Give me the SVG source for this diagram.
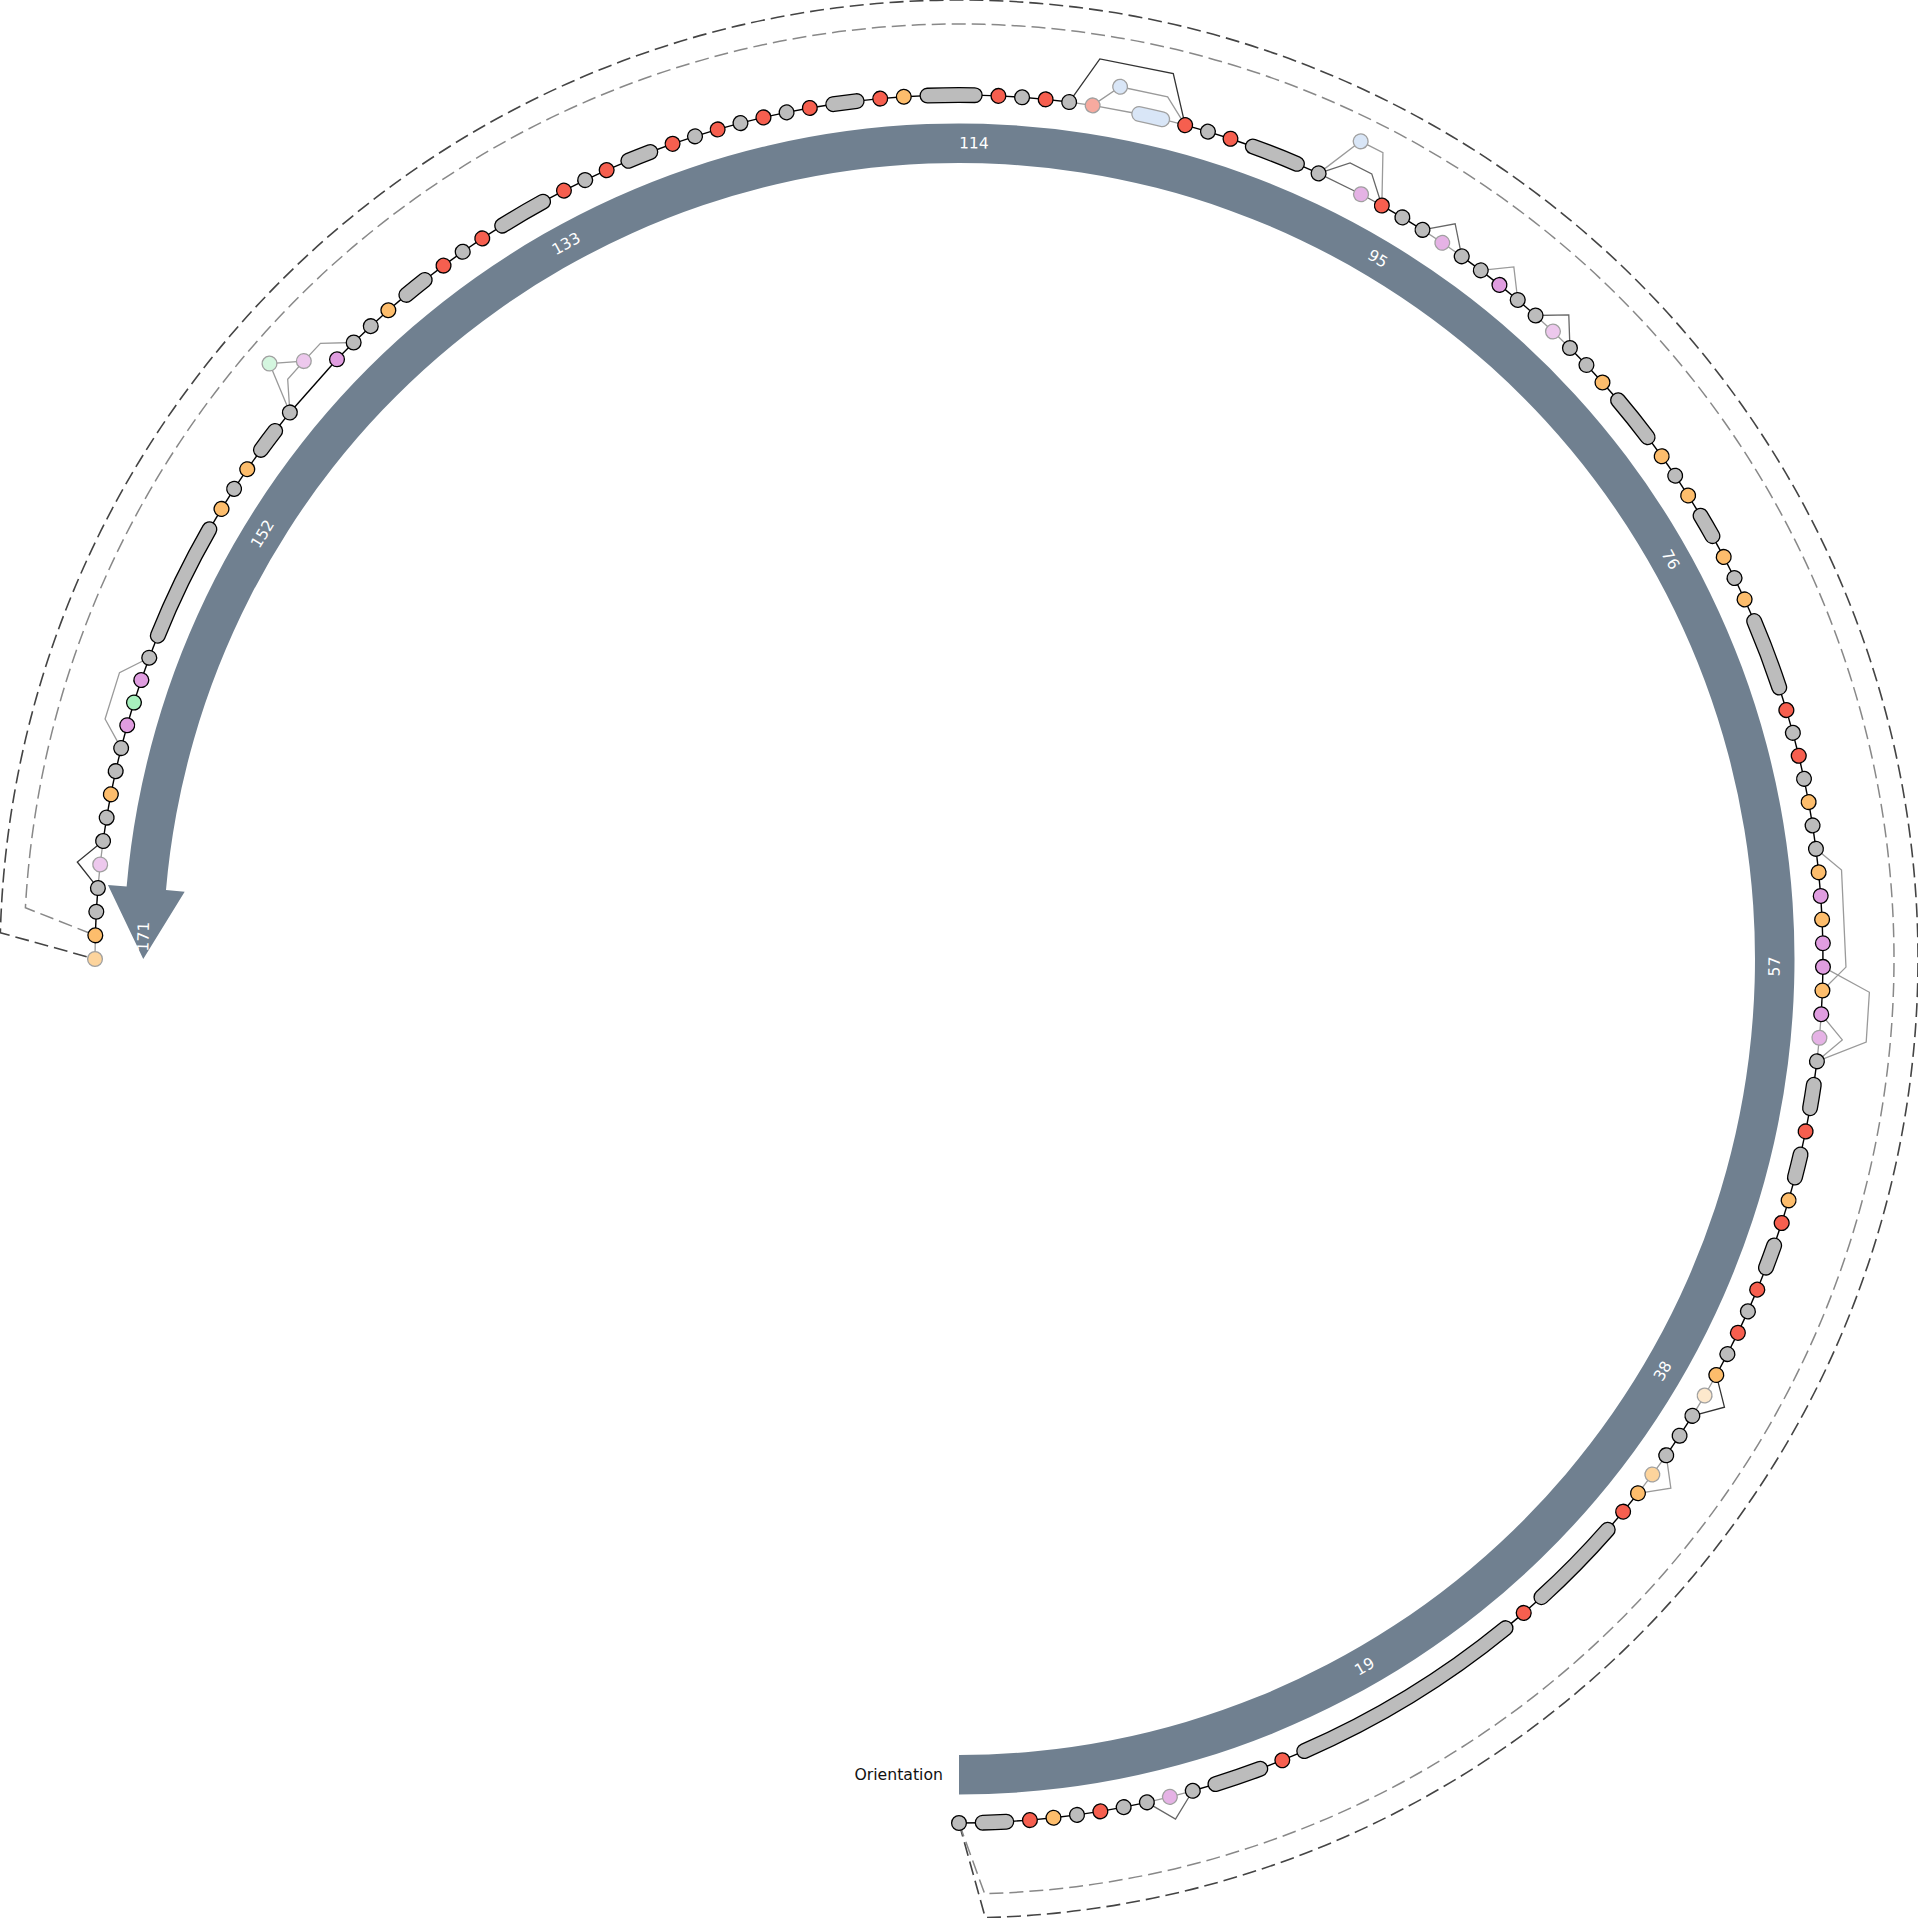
<svg xmlns="http://www.w3.org/2000/svg" width="1918" height="1918" viewBox="0 0 1918 1918">
<style>
.band{fill:#708090}
.lbl{font-family:"DejaVu Sans","Liberation Sans",sans-serif;font-size:15.6px;fill:#fff;text-anchor:middle;dominant-baseline:central}
.ttl{font-family:"DejaVu Sans","Liberation Sans",sans-serif;font-size:15.7px;fill:#111;text-anchor:end}
.dash1{fill:none;stroke:#444;stroke-width:1.6;stroke-dasharray:14 6}
.dash2{fill:none;stroke:#888;stroke-width:1.5;stroke-dasharray:14 6}
.e{fill:none;stroke:#000;stroke-width:1.4}
.el{fill:none;stroke:#9a9a9a;stroke-width:1.3}
.em{fill:none;stroke:#666;stroke-width:1.3}
.ed{fill:none;stroke:#333;stroke-width:1.3}
.node circle{stroke:#000;stroke-width:1.3}
.node.f circle{stroke:#a0a0a0}
.g{fill:#bcbcbc}.r{fill:#f65f4f}.o{fill:#fdbd6c}.v{fill:#e09de0}.gr{fill:#a7f1bd}
.fv{fill:#e5b2e5}.fv2{fill:#edc8ed}.fb{fill:#d9e6f7}.fs{fill:#f7aa9f}.fo{fill:#fdd49c}.fo2{fill:#fde8cc}.fg{fill:#d4f6df}
.po{fill:none;stroke:#000;stroke-width:16;stroke-linecap:round}
.pi{fill:none;stroke:#bcbcbc;stroke-width:13.4;stroke-linecap:round}
.pob{fill:none;stroke:#a0a0a0;stroke-width:16;stroke-linecap:round}
.pib{fill:none;stroke:#d9e6f7;stroke-width:13.4;stroke-linecap:round}
</style>
<defs>
<path id="a1" d="M864 0A864 864 0 0 0 863.68 -23.67"/>
<path id="a2" d="M864 0A864 864 0 0 0 862.7 -47.32"/>
<path id="a3" d="M864 0A864 864 0 0 0 861.08 -70.94"/>
<path id="a4" d="M864 0A864 864 0 0 0 858.82 -94.5"/>
<path id="a5" d="M864 0A864 864 0 0 0 855.9 -117.99"/>
<path id="a10" d="M864 0A864 864 0 0 0 831.77 -233.77"/>
<line id="u1" x1="864" y1="0" x2="863.68" y2="-23.67"/>
<line id="u2" x1="864" y1="0" x2="862.7" y2="-47.32"/>
<line id="u3" x1="864" y1="0" x2="861.08" y2="-70.94"/>
</defs>
<rect width="1918" height="1918" fill="#fff"/>

<g id="orientation">
<path class="band" d="M959 1794.5A835.5 835.5 0 1 0 126.64 886.62L107.96 884.99L143.25 959L184.67 891.66L165.99 890.04A796 796 0 1 1 959 1755Z"/>
<text class="ttl" x="943" y="1780">Orientation</text>
<g transform="translate(959 959)">
<text class="lbl" transform="rotate(60.1744) translate(815.7 0) rotate(-90)">19</text>
<text class="lbl" transform="rotate(30.3488) translate(815.7 0) rotate(-90)">38</text>
<text class="lbl" transform="rotate(0.5233) translate(815.7 0) rotate(-90)">57</text>
<text class="lbl" transform="rotate(-29.3023) translate(815.7 0) rotate(90)">76</text>
<text class="lbl" transform="rotate(-59.1279) translate(815.7 0) rotate(90)">95</text>
<text class="lbl" transform="rotate(-88.9535) translate(815.7 0) rotate(90)">114</text>
<text class="lbl" transform="rotate(-118.7791) translate(815.7 0) rotate(90)">133</text>
<text class="lbl" transform="rotate(-148.6047) translate(815.7 0) rotate(90)">152</text>
<text class="lbl" transform="rotate(-178.4302) translate(815.7 0) rotate(90)">171</text>
</g>
</g>

<g id="connectors">
<path class="dash1" d="M959 1823L985.27 1917.64A959 959 0 1 0 0.36 932.73L95 959"/>
<path class="dash2" d="M959 1823L984.61 1893.65A935 935 0 1 0 25.4 907.79L95.32 935.33"/>
<g transform="translate(959 959)">
<g class="e">
<use href="#u1" transform="rotate(90)"/>
<use href="#u1" transform="rotate(86.8605)"/>
<use href="#u1" transform="rotate(85.2907)"/>
<use href="#u1" transform="rotate(83.7209)"/>
<use href="#u1" transform="rotate(82.1512)"/>
<use href="#u1" transform="rotate(80.5814)"/>
<use href="#u1" transform="rotate(79.0116)"/>
<use href="#u1" transform="rotate(74.3023)"/>
<use href="#u1" transform="rotate(69.593)"/>
<use href="#u1" transform="rotate(68.0233)"/>
<use href="#u1" transform="rotate(50.7558)"/>
<use href="#u1" transform="rotate(49.186)"/>
<use href="#u1" transform="rotate(41.3372)"/>
<use href="#u1" transform="rotate(39.7674)"/>
<use href="#u1" transform="rotate(35.0581)"/>
<use href="#u1" transform="rotate(33.4884)"/>
<use href="#u1" transform="rotate(28.7791)"/>
<use href="#u1" transform="rotate(27.2093)"/>
<use href="#u1" transform="rotate(25.6395)"/>
<use href="#u1" transform="rotate(24.0698)"/>
<use href="#u1" transform="rotate(22.5)"/>
<use href="#u1" transform="rotate(19.3605)"/>
<use href="#u1" transform="rotate(17.7907)"/>
<use href="#u1" transform="rotate(16.2209)"/>
<use href="#u1" transform="rotate(13.0814)"/>
<use href="#u1" transform="rotate(11.5116)"/>
<use href="#u1" transform="rotate(8.3721)"/>
<use href="#u1" transform="rotate(3.6628)"/>
<use href="#u1" transform="rotate(2.093)"/>
<use href="#u1" transform="rotate(0.5233)"/>
<use href="#u1" transform="rotate(-1.0465)"/>
<use href="#u1" transform="rotate(-2.6163)"/>
<use href="#u1" transform="rotate(-4.186)"/>
<use href="#u1" transform="rotate(-5.7558)"/>
<use href="#u1" transform="rotate(-7.3256)"/>
<use href="#u1" transform="rotate(-8.8953)"/>
<use href="#u1" transform="rotate(-10.4651)"/>
<use href="#u1" transform="rotate(-12.0349)"/>
<use href="#u1" transform="rotate(-13.6047)"/>
<use href="#u1" transform="rotate(-15.1744)"/>
<use href="#u1" transform="rotate(-16.7442)"/>
<use href="#u1" transform="rotate(-23.0233)"/>
<use href="#u1" transform="rotate(-24.593)"/>
<use href="#u1" transform="rotate(-26.1628)"/>
<use href="#u1" transform="rotate(-27.7326)"/>
<use href="#u1" transform="rotate(-30.8721)"/>
<use href="#u1" transform="rotate(-32.4419)"/>
<use href="#u1" transform="rotate(-34.0116)"/>
<use href="#u1" transform="rotate(-35.5814)"/>
<use href="#u1" transform="rotate(-40.2907)"/>
<use href="#u1" transform="rotate(-41.8605)"/>
<use href="#u1" transform="rotate(-43.4302)"/>
<use href="#u1" transform="rotate(-48.1395)"/>
<use href="#u1" transform="rotate(-49.7093)"/>
<use href="#u1" transform="rotate(-51.2791)"/>
<use href="#u1" transform="rotate(-52.8488)"/>
<use href="#u1" transform="rotate(-57.5581)"/>
<use href="#u1" transform="rotate(-59.1279)"/>
<use href="#u1" transform="rotate(-65.407)"/>
<use href="#u1" transform="rotate(-70.1163)"/>
<use href="#u1" transform="rotate(-71.686)"/>
<use href="#u1" transform="rotate(-73.2558)"/>
<use href="#u1" transform="rotate(-82.6744)"/>
<use href="#u1" transform="rotate(-84.2442)"/>
<use href="#u1" transform="rotate(-85.814)"/>
<use href="#u1" transform="rotate(-87.3837)"/>
<use href="#u1" transform="rotate(-92.093)"/>
<use href="#u1" transform="rotate(-93.6628)"/>
<use href="#u1" transform="rotate(-95.2326)"/>
<use href="#u1" transform="rotate(-98.3721)"/>
<use href="#u1" transform="rotate(-99.9419)"/>
<use href="#u1" transform="rotate(-101.5116)"/>
<use href="#u1" transform="rotate(-103.0814)"/>
<use href="#u1" transform="rotate(-104.6512)"/>
<use href="#u1" transform="rotate(-106.2209)"/>
<use href="#u1" transform="rotate(-107.7907)"/>
<use href="#u1" transform="rotate(-109.3605)"/>
<use href="#u1" transform="rotate(-112.5)"/>
<use href="#u1" transform="rotate(-114.0698)"/>
<use href="#u1" transform="rotate(-115.6395)"/>
<use href="#u1" transform="rotate(-117.2093)"/>
<use href="#u1" transform="rotate(-121.9186)"/>
<use href="#u1" transform="rotate(-123.4884)"/>
<use href="#u1" transform="rotate(-125.0581)"/>
<use href="#u1" transform="rotate(-126.6279)"/>
<use href="#u1" transform="rotate(-129.7674)"/>
<use href="#u1" transform="rotate(-131.3372)"/>
<use href="#u1" transform="rotate(-132.907)"/>
<use href="#u1" transform="rotate(-134.4767)"/>
<use href="#u3" transform="rotate(-136.0465)"/>
<use href="#u1" transform="rotate(-140.7558)"/>
<use href="#u1" transform="rotate(-143.8953)"/>
<use href="#u1" transform="rotate(-145.4651)"/>
<use href="#u1" transform="rotate(-147.0349)"/>
<use href="#u1" transform="rotate(-148.6047)"/>
<use href="#u1" transform="rotate(-158.0233)"/>
<use href="#u1" transform="rotate(-159.593)"/>
<use href="#u1" transform="rotate(-161.1628)"/>
<use href="#u1" transform="rotate(-162.7326)"/>
<use href="#u1" transform="rotate(-164.3023)"/>
<use href="#u1" transform="rotate(-165.8721)"/>
<use href="#u1" transform="rotate(-167.4419)"/>
<use href="#u1" transform="rotate(-169.0116)"/>
<use href="#u1" transform="rotate(-170.5814)"/>
<use href="#u1" transform="rotate(-175.2907)"/>
<use href="#u1" transform="rotate(-176.8605)"/>
</g>
<g class="el">
<use href="#u1" transform="rotate(77.4419)"/>
<use href="#u1" transform="rotate(75.8721)"/>
<use href="#u1" transform="rotate(38.1977)"/>
<use href="#u1" transform="rotate(36.6279)"/>
<use href="#u1" transform="rotate(31.9186)"/>
<use href="#u1" transform="rotate(30.3488)"/>
<use href="#u1" transform="rotate(6.8023)"/>
<use href="#u1" transform="rotate(5.2326)"/>
<use href="#u1" transform="rotate(-45)"/>
<use href="#u1" transform="rotate(-46.5698)"/>
<use href="#u1" transform="rotate(-54.4186)"/>
<use href="#u1" transform="rotate(-55.9884)"/>
<use href="#u1" transform="rotate(-74.8256)"/>
<use href="#u2" transform="rotate(-77.9651)"/>
<use href="#u1" transform="rotate(-81.1047)"/>
<use href="#u1" transform="rotate(-172.1512)"/>
<use href="#u1" transform="rotate(-173.7209)"/>
<use href="#u1" transform="rotate(-178.4302)"/>
<polyline transform="rotate(38.1977)" points="864,0 886.67,-24.3 862.7,-47.32"/>
<polyline transform="rotate(6.8023)" points="864,0 886.67,-24.3 862.7,-47.32"/>
<polyline transform="rotate(6.8023)" points="864,0 910.66,-24.96 907.92,-74.79 858.82,-94.5"/>
<polyline transform="rotate(2.093)" points="864,0 886.67,-24.3 878.69,-121.13 852.35,-141.39"/>
<polyline transform="rotate(-49.7093)" points="864,0 886.67,-24.3 862.7,-47.32"/>
<polyline transform="rotate(-60.6977)" points="864,0 910.66,-24.96 909.63,-49.89 861.08,-70.94"/>
<polyline transform="rotate(-74.8256)" points="864,0 886.67,-24.3 884.01,-72.82 858.82,-94.5"/>
<polyline transform="rotate(-134.4767)" points="864,0 886.67,-24.3 885.67,-48.58 884.01,-72.82 858.82,-94.5"/>
<polyline transform="rotate(-134.4767)" points="885.67,-48.58 907.92,-74.79 858.82,-94.5"/>
<polyline transform="rotate(-159.593)" points="864,0 886.67,-24.3 884.01,-72.82 858.82,-94.5"/>
</g>
<g class="em">
<use href="#u1" transform="rotate(-60.6977)"/>
<use href="#u2" transform="rotate(-62.2674)"/>
<polyline transform="rotate(77.4419)" points="864,0 886.67,-24.3 862.7,-47.32"/>
<polyline transform="rotate(-45)" points="864,0 886.67,-24.3 862.7,-47.32"/>
<polyline transform="rotate(-54.4186)" points="864,0 886.67,-24.3 862.7,-47.32"/>
<polyline transform="rotate(-60.6977)" points="864,0 886.67,-24.3 885.67,-48.58 861.08,-70.94"/>
</g>
<g class="ed">
<polyline transform="rotate(31.9186)" points="864,0 886.67,-24.3 862.7,-47.32"/>
<polyline transform="rotate(-74.8256)" points="864,0 910.66,-24.96 905.54,-99.64 855.9,-117.99"/>
<polyline transform="rotate(-172.1512)" points="864,0 886.67,-24.3 862.7,-47.32"/>
</g>
</g>
</g>

<g id="nodes" transform="translate(959 959)">
<g id="n0" class="node g" transform="rotate(90)"><circle cx="864" r="7.4"/></g>
<g id="n1" transform="rotate(88.4302)"><use href="#a1" class="po"/><use href="#a1" class="pi"/></g>
<g id="n3" class="node r" transform="rotate(85.2907)"><circle cx="864" r="7.4"/></g>
<g id="n4" class="node o" transform="rotate(83.7209)"><circle cx="864" r="7.4"/></g>
<g id="n5" class="node g" transform="rotate(82.1512)"><circle cx="864" r="7.4"/></g>
<g id="n6" class="node r" transform="rotate(80.5814)"><circle cx="864" r="7.4"/></g>
<g id="n7" class="node g" transform="rotate(79.0116)"><circle cx="864" r="7.4"/></g>
<g id="n8" class="node g" transform="rotate(77.4419)"><circle cx="864" r="7.4"/></g>
<g id="n9" class="node f fv" transform="rotate(75.8721)"><circle cx="864" r="7.4"/></g>
<g id="n10" class="node g" transform="rotate(74.3023)"><circle cx="864" r="7.4"/></g>
<g id="n11" transform="rotate(72.7326)"><use href="#a2" class="po"/><use href="#a2" class="pi"/></g>
<g id="n14" class="node r" transform="rotate(68.0233)"><circle cx="864" r="7.4"/></g>
<g id="n15" transform="rotate(66.4535)"><use href="#a10" class="po"/><use href="#a10" class="pi"/></g>
<g id="n26" class="node r" transform="rotate(49.186)"><circle cx="864" r="7.4"/></g>
<g id="n27" transform="rotate(47.6163)"><use href="#a4" class="po"/><use href="#a4" class="pi"/></g>
<g id="n32" class="node r" transform="rotate(39.7674)"><circle cx="864" r="7.4"/></g>
<g id="n33" class="node o" transform="rotate(38.1977)"><circle cx="864" r="7.4"/></g>
<g id="n34" class="node f fo" transform="rotate(36.6279)"><circle cx="864" r="7.4"/></g>
<g id="n35" class="node g" transform="rotate(35.0581)"><circle cx="864" r="7.4"/></g>
<g id="n36" class="node g" transform="rotate(33.4884)"><circle cx="864" r="7.4"/></g>
<g id="n37" class="node g" transform="rotate(31.9186)"><circle cx="864" r="7.4"/></g>
<g id="n38" class="node f fo2" transform="rotate(30.3488)"><circle cx="864" r="7.4"/></g>
<g id="n39" class="node o" transform="rotate(28.7791)"><circle cx="864" r="7.4"/></g>
<g id="n40" class="node g" transform="rotate(27.2093)"><circle cx="864" r="7.4"/></g>
<g id="n41" class="node r" transform="rotate(25.6395)"><circle cx="864" r="7.4"/></g>
<g id="n42" class="node g" transform="rotate(24.0698)"><circle cx="864" r="7.4"/></g>
<g id="n43" class="node r" transform="rotate(22.5)"><circle cx="864" r="7.4"/></g>
<g id="n44" transform="rotate(20.9302)"><use href="#a1" class="po"/><use href="#a1" class="pi"/></g>
<g id="n46" class="node r" transform="rotate(17.7907)"><circle cx="864" r="7.4"/></g>
<g id="n47" class="node o" transform="rotate(16.2209)"><circle cx="864" r="7.4"/></g>
<g id="n48" transform="rotate(14.6512)"><use href="#a1" class="po"/><use href="#a1" class="pi"/></g>
<g id="n50" class="node r" transform="rotate(11.5116)"><circle cx="864" r="7.4"/></g>
<g id="n51" transform="rotate(9.9419)"><use href="#a1" class="po"/><use href="#a1" class="pi"/></g>
<g id="n53" class="node g" transform="rotate(6.8023)"><circle cx="864" r="7.4"/></g>
<g id="n54" class="node f fv" transform="rotate(5.2326)"><circle cx="864" r="7.4"/></g>
<g id="n55" class="node v" transform="rotate(3.6628)"><circle cx="864" r="7.4"/></g>
<g id="n56" class="node o" transform="rotate(2.093)"><circle cx="864" r="7.4"/></g>
<g id="n57" class="node v" transform="rotate(0.5233)"><circle cx="864" r="7.4"/></g>
<g id="n58" class="node v" transform="rotate(-1.0465)"><circle cx="864" r="7.4"/></g>
<g id="n59" class="node o" transform="rotate(-2.6163)"><circle cx="864" r="7.4"/></g>
<g id="n60" class="node v" transform="rotate(-4.186)"><circle cx="864" r="7.4"/></g>
<g id="n61" class="node o" transform="rotate(-5.7558)"><circle cx="864" r="7.4"/></g>
<g id="n62" class="node g" transform="rotate(-7.3256)"><circle cx="864" r="7.4"/></g>
<g id="n63" class="node g" transform="rotate(-8.8953)"><circle cx="864" r="7.4"/></g>
<g id="n64" class="node o" transform="rotate(-10.4651)"><circle cx="864" r="7.4"/></g>
<g id="n65" class="node g" transform="rotate(-12.0349)"><circle cx="864" r="7.4"/></g>
<g id="n66" class="node r" transform="rotate(-13.6047)"><circle cx="864" r="7.4"/></g>
<g id="n67" class="node g" transform="rotate(-15.1744)"><circle cx="864" r="7.4"/></g>
<g id="n68" class="node r" transform="rotate(-16.7442)"><circle cx="864" r="7.4"/></g>
<g id="n69" transform="rotate(-18.314)"><use href="#a3" class="po"/><use href="#a3" class="pi"/></g>
<g id="n73" class="node o" transform="rotate(-24.593)"><circle cx="864" r="7.4"/></g>
<g id="n74" class="node g" transform="rotate(-26.1628)"><circle cx="864" r="7.4"/></g>
<g id="n75" class="node o" transform="rotate(-27.7326)"><circle cx="864" r="7.4"/></g>
<g id="n76" transform="rotate(-29.3023)"><use href="#a1" class="po"/><use href="#a1" class="pi"/></g>
<g id="n78" class="node o" transform="rotate(-32.4419)"><circle cx="864" r="7.4"/></g>
<g id="n79" class="node g" transform="rotate(-34.0116)"><circle cx="864" r="7.4"/></g>
<g id="n80" class="node o" transform="rotate(-35.5814)"><circle cx="864" r="7.4"/></g>
<g id="n81" transform="rotate(-37.1512)"><use href="#a2" class="po"/><use href="#a2" class="pi"/></g>
<g id="n84" class="node o" transform="rotate(-41.8605)"><circle cx="864" r="7.4"/></g>
<g id="n85" class="node g" transform="rotate(-43.4302)"><circle cx="864" r="7.4"/></g>
<g id="n86" class="node g" transform="rotate(-45)"><circle cx="864" r="7.4"/></g>
<g id="n87" class="node f fv2" transform="rotate(-46.5698)"><circle cx="864" r="7.4"/></g>
<g id="n88" class="node g" transform="rotate(-48.1395)"><circle cx="864" r="7.4"/></g>
<g id="n89" class="node g" transform="rotate(-49.7093)"><circle cx="864" r="7.4"/></g>
<g id="n90" class="node v" transform="rotate(-51.2791)"><circle cx="864" r="7.4"/></g>
<g id="n91" class="node g" transform="rotate(-52.8488)"><circle cx="864" r="7.4"/></g>
<g id="n92" class="node g" transform="rotate(-54.4186)"><circle cx="864" r="7.4"/></g>
<g id="n93" class="node f fv" transform="rotate(-55.9884)"><circle cx="864" r="7.4"/></g>
<g id="n94" class="node g" transform="rotate(-57.5581)"><circle cx="864" r="7.4"/></g>
<g id="n95" class="node g" transform="rotate(-59.1279)"><circle cx="864" r="7.4"/></g>
<g id="n96" class="node r" transform="rotate(-60.6977)"><circle cx="864" r="7.4"/></g>
<g id="n97" class="node f fv" transform="rotate(-62.2674)"><circle cx="864" r="7.4"/></g>
<g id="n98" class="node f fb" transform="rotate(-63.8372)"><circle cx="911" r="7.4"/></g>
<g id="n99" class="node g" transform="rotate(-65.407)"><circle cx="864" r="7.4"/></g>
<g id="n100" transform="rotate(-66.9767)"><use href="#a2" class="po"/><use href="#a2" class="pi"/></g>
<g id="n103" class="node r" transform="rotate(-71.686)"><circle cx="864" r="7.4"/></g>
<g id="n104" class="node g" transform="rotate(-73.2558)"><circle cx="864" r="7.4"/></g>
<g id="n105" class="node r" transform="rotate(-74.8256)"><circle cx="864" r="7.4"/></g>
<g id="n106" transform="rotate(-76.3953)"><use href="#a1" class="pob"/><use href="#a1" class="pib"/></g>
<g id="n108" class="node f fb" transform="rotate(-79.5349)"><circle cx="887" r="7.4"/></g>
<g id="n109" class="node f fs" transform="rotate(-81.1047)"><circle cx="864" r="7.4"/></g>
<g id="n110" class="node g" transform="rotate(-82.6744)"><circle cx="864" r="7.4"/></g>
<g id="n111" class="node r" transform="rotate(-84.2442)"><circle cx="864" r="7.4"/></g>
<g id="n112" class="node g" transform="rotate(-85.814)"><circle cx="864" r="7.4"/></g>
<g id="n113" class="node r" transform="rotate(-87.3837)"><circle cx="864" r="7.4"/></g>
<g id="n114" transform="rotate(-88.9535)"><use href="#a2" class="po"/><use href="#a2" class="pi"/></g>
<g id="n117" class="node o" transform="rotate(-93.6628)"><circle cx="864" r="7.4"/></g>
<g id="n118" class="node r" transform="rotate(-95.2326)"><circle cx="864" r="7.4"/></g>
<g id="n119" transform="rotate(-96.8023)"><use href="#a1" class="po"/><use href="#a1" class="pi"/></g>
<g id="n121" class="node r" transform="rotate(-99.9419)"><circle cx="864" r="7.4"/></g>
<g id="n122" class="node g" transform="rotate(-101.5116)"><circle cx="864" r="7.4"/></g>
<g id="n123" class="node r" transform="rotate(-103.0814)"><circle cx="864" r="7.4"/></g>
<g id="n124" class="node g" transform="rotate(-104.6512)"><circle cx="864" r="7.4"/></g>
<g id="n125" class="node r" transform="rotate(-106.2209)"><circle cx="864" r="7.4"/></g>
<g id="n126" class="node g" transform="rotate(-107.7907)"><circle cx="864" r="7.4"/></g>
<g id="n127" class="node r" transform="rotate(-109.3605)"><circle cx="864" r="7.4"/></g>
<g id="n128" transform="rotate(-110.9302)"><use href="#a1" class="po"/><use href="#a1" class="pi"/></g>
<g id="n130" class="node r" transform="rotate(-114.0698)"><circle cx="864" r="7.4"/></g>
<g id="n131" class="node g" transform="rotate(-115.6395)"><circle cx="864" r="7.4"/></g>
<g id="n132" class="node r" transform="rotate(-117.2093)"><circle cx="864" r="7.4"/></g>
<g id="n133" transform="rotate(-118.7791)"><use href="#a2" class="po"/><use href="#a2" class="pi"/></g>
<g id="n136" class="node r" transform="rotate(-123.4884)"><circle cx="864" r="7.4"/></g>
<g id="n137" class="node g" transform="rotate(-125.0581)"><circle cx="864" r="7.4"/></g>
<g id="n138" class="node r" transform="rotate(-126.6279)"><circle cx="864" r="7.4"/></g>
<g id="n139" transform="rotate(-128.1977)"><use href="#a1" class="po"/><use href="#a1" class="pi"/></g>
<g id="n141" class="node o" transform="rotate(-131.3372)"><circle cx="864" r="7.4"/></g>
<g id="n142" class="node g" transform="rotate(-132.907)"><circle cx="864" r="7.4"/></g>
<g id="n143" class="node g" transform="rotate(-134.4767)"><circle cx="864" r="7.4"/></g>
<g id="n144" class="node v" transform="rotate(-136.0465)"><circle cx="864" r="7.4"/></g>
<g id="n145" class="node f fv2" transform="rotate(-137.6163)"><circle cx="887" r="7.4"/></g>
<g id="n146" class="node f fg" transform="rotate(-139.186)"><circle cx="911" r="7.4"/></g>
<g id="n147" class="node g" transform="rotate(-140.7558)"><circle cx="864" r="7.4"/></g>
<g id="n148" transform="rotate(-142.3256)"><use href="#a1" class="po"/><use href="#a1" class="pi"/></g>
<g id="n150" class="node o" transform="rotate(-145.4651)"><circle cx="864" r="7.4"/></g>
<g id="n151" class="node g" transform="rotate(-147.0349)"><circle cx="864" r="7.4"/></g>
<g id="n152" class="node o" transform="rotate(-148.6047)"><circle cx="864" r="7.4"/></g>
<g id="n153" transform="rotate(-150.1744)"><use href="#a5" class="po"/><use href="#a5" class="pi"/></g>
<g id="n159" class="node g" transform="rotate(-159.593)"><circle cx="864" r="7.4"/></g>
<g id="n160" class="node v" transform="rotate(-161.1628)"><circle cx="864" r="7.4"/></g>
<g id="n161" class="node gr" transform="rotate(-162.7326)"><circle cx="864" r="7.4"/></g>
<g id="n162" class="node v" transform="rotate(-164.3023)"><circle cx="864" r="7.4"/></g>
<g id="n163" class="node g" transform="rotate(-165.8721)"><circle cx="864" r="7.4"/></g>
<g id="n164" class="node g" transform="rotate(-167.4419)"><circle cx="864" r="7.4"/></g>
<g id="n165" class="node o" transform="rotate(-169.0116)"><circle cx="864" r="7.4"/></g>
<g id="n166" class="node g" transform="rotate(-170.5814)"><circle cx="864" r="7.4"/></g>
<g id="n167" class="node g" transform="rotate(-172.1512)"><circle cx="864" r="7.4"/></g>
<g id="n168" class="node f fv2" transform="rotate(-173.7209)"><circle cx="864" r="7.4"/></g>
<g id="n169" class="node g" transform="rotate(-175.2907)"><circle cx="864" r="7.4"/></g>
<g id="n170" class="node g" transform="rotate(-176.8605)"><circle cx="864" r="7.4"/></g>
<g id="n171" class="node o" transform="rotate(-178.4302)"><circle cx="864" r="7.4"/></g>
<g id="n172" class="node f fo" transform="rotate(-180)"><circle cx="864" r="7.4"/></g>
</g>
</svg>
